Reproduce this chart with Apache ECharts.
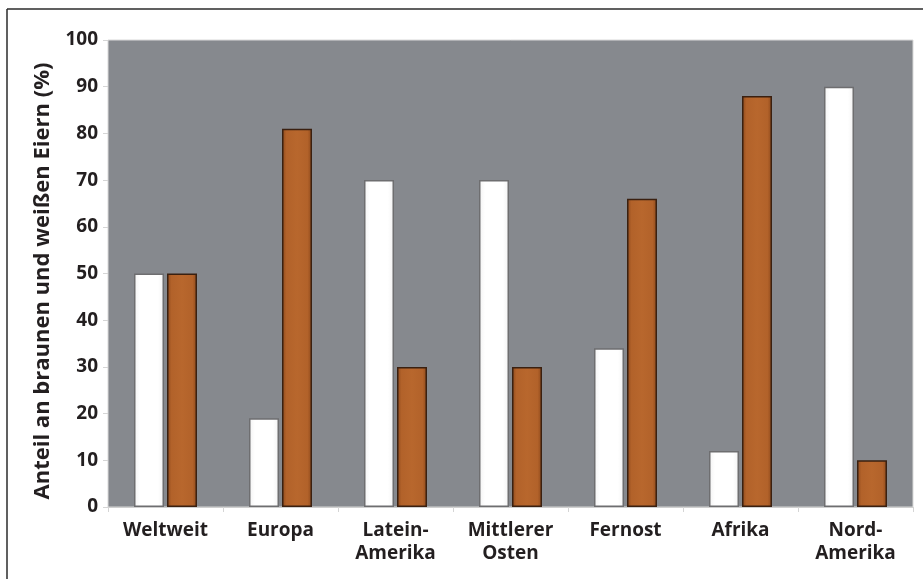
<!DOCTYPE html>
<html>
<head>
<meta charset="utf-8">
<script src="https://cdn.jsdelivr.net/npm/echarts@6/dist/echarts.min.js"></script>
<style>
  html, body { margin: 0; padding: 0; background: #ffffff; }
  #chart { width: 923px; height: 579px; }
</style>
</head>
<body>
<div id="chart"></div>
<script>
// Regions on the category axis (label line breaks included)
const categories = ['Weltweit', 'Europa', 'Latein-\nAmerika', 'Mittlerer\nOsten', 'Fernost', 'Afrika', 'Nord-\nAmerika'];
// Share of white eggs per region (%)
const whiteEggs = [50, 19, 70, 70, 34, 12, 90];
// Share of brown eggs per region (%)
const brownEggs = [50, 81, 30, 30, 66, 88, 10];
// Value axis range and step
const yMin = 0;
const yMax = 100;
const yStep = 10;
const yTitle = 'Anteil an braunen und weißen Eiern (%)';

const FONT = '"Open Sans", "Noto Sans", "DejaVu Sans", sans-serif';
const TEXT = '#231f20';

const chart = echarts.init(document.getElementById('chart'), null, { renderer: 'canvas' });

const brownFill = new echarts.graphic.LinearGradient(0, 0, 1, 0, [
  { offset: 0, color: '#8f4a1c' },
  { offset: 0.15, color: '#b2622a' },
  { offset: 0.5, color: '#b8672d' },
  { offset: 0.85, color: '#b2622a' },
  { offset: 1, color: '#8f4a1c' }
]);
const whiteFill = new echarts.graphic.LinearGradient(0, 0, 1, 0, [
  { offset: 0, color: '#f2f2f2' },
  { offset: 0.2, color: '#ffffff' },
  { offset: 0.8, color: '#ffffff' },
  { offset: 1, color: '#f2f2f2' }
]);

chart.setOption({
  backgroundColor: '#ffffff',
  animation: false,
  grid: {
    left: 108, right: 10, top: 40, bottom: 72,
    show: true,
    backgroundColor: '#86898e',
    borderColor: '#d9d9d9',
    borderWidth: 1
  },
  graphic: [
    // figure frame (top and left edges)
    { type: 'line', shape: { x1: 7, y1: 9, x2: 923, y2: 9 }, style: { stroke: '#2b2b2b', lineWidth: 1.5 } },
    { type: 'line', shape: { x1: 7, y1: 9, x2: 7, y2: 579 }, style: { stroke: '#2b2b2b', lineWidth: 1.5 } },
    {
      type: 'text',
      x: 43, y: 281,
      rotation: Math.PI / 2,
      style: {
        text: yTitle,
        fontFamily: FONT,
        fontWeight: 'bold',
        fontSize: 22,
        fill: TEXT,
        align: 'center',
        verticalAlign: 'middle'
      }
    }
  ],
  xAxis: {
    type: 'category',
    data: categories,
    axisLine: { show: true, lineStyle: { color: '#cfcfcf', width: 1 } },
    axisTick: { show: true, length: 5, lineStyle: { color: '#d5d5d5' } },
    axisLabel: {
      fontFamily: FONT,
      fontWeight: 'bold',
      fontSize: 19,
      lineHeight: 23,
      color: TEXT,
      margin: 12,
      interval: 0
    }
  },
  yAxis: {
    type: 'value',
    min: yMin,
    max: yMax,
    interval: yStep,
    axisLine: { show: false },
    axisTick: { show: true, length: 5, lineStyle: { color: '#d5d5d5' } },
    splitLine: { show: false },
    axisLabel: {
      fontFamily: FONT,
      fontWeight: 'bold',
      fontSize: 19,
      color: TEXT,
      margin: 10
    }
  },
  series: [
    {
      name: 'weiß',
      type: 'bar',
      data: whiteEggs,
      barWidth: 30,
      barGap: '10%',
      itemStyle: { color: whiteFill, borderColor: '#6e6e70', borderWidth: 1.5 }
    },
    {
      name: 'braun',
      type: 'bar',
      data: brownEggs,
      barWidth: 30,
      itemStyle: { color: brownFill, borderColor: '#3a2010', borderWidth: 1.5 }
    }
  ]
});
</script>
</body>
</html>
